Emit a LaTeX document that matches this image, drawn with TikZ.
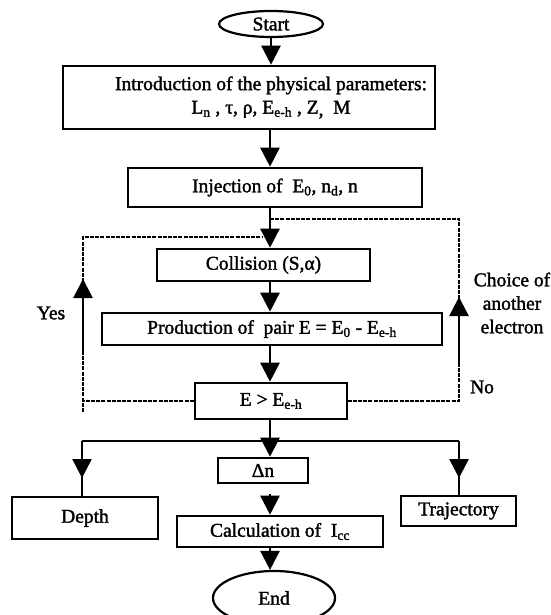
\documentclass[tikz,border=0pt]{standalone}
\usepackage{fontspec}
\setmainfont{Liberation Serif}[FakeBold=1.6,BoldFont=Liberation Serif,BoldFeatures={FakeBold=1.6}]
\usetikzlibrary{arrows.meta,shapes.geometric}
\newcommand{\sbs}[1]{\textsubscript{#1}}
\begin{document}
\begin{tikzpicture}[x=1pt,y=-1pt,
  every node/.style={font=\fontsize{19.5}{23.5}\selectfont\bfseries},
  box/.style={draw, line width=2.6pt, inner sep=0pt, align=center},
  term/.style={draw, ellipse, line width=2.2pt, inner sep=0pt},
  flow/.style={line width=2.6pt, -{Triangle[length=19pt,width=19pt]}},
  plainline/.style={line width=2.6pt},
  looppath/.style={line width=1.3pt, dash pattern=on 4pt off 1.2pt},
  lbl/.style={align=center, inner sep=0pt}]
\clip (0,0) rectangle (550,615);
\fill[white] (0,0) rectangle (550,615);
\coordinate (mx) at (270,0);

% nodes
\node[term, minimum width=104pt, minimum height=26pt] (start) at (271,24) {Start};
\node[box, minimum width=372pt, minimum height=63pt] (intro) at (249,97.5) {};
\node[lbl] (introtxt) at (271,97.5) {Introduction of the physical parameters:\\
  L\sbs{n} ,\ τ, ρ, E\sbs{e-h} ,\ Z\raisebox{-2pt}{,}\ \ M};
\node[box, minimum width=294pt, minimum height=39pt] (inj) at (275,187.5) {Injection of\ \ E\sbs{0}, n\sbs{d}, n};
\node[box, minimum width=213pt, minimum height=32pt] (col) at (263.5,265) {Collision (S,α)};
\node[box, minimum width=340pt, minimum height=32pt] (prod) at (272,329) {Production of\ \ pair E = E\sbs{0} - E\sbs{e-h}};
\node[box, minimum width=152pt, minimum height=36pt] (cmp) at (271,401) {E > E\sbs{e-h}};
\node[box, minimum width=90pt, minimum height=25pt] (dn) at (263,470.5) {Δn};
\node[box, minimum width=146pt, minimum height=42pt] (depth) at (85,518) {Depth};
\node[box, minimum width=206pt, minimum height=31pt] (calc) at (280,531.5) {Calculation of\ \ I\sbs{cc}};
\node[box, minimum width=115pt, minimum height=30pt] (traj) at (458.5,511) {Trajectory};
\node[term, minimum width=122pt, minimum height=54pt] (end) at (274,598) {End};

\node[lbl] (yes) at (51,313) {Yes};
\node[lbl] (no) at (482,387) {No};
\node[lbl] (choice) at (512,303) {Choice of\\another\\electron};

% main flow
\draw[flow] (start.south) -- (start.south |- intro.north);
\draw[flow] (intro.south -| mx) -- (inj.north -| mx);
\draw[flow] (inj.south -| mx) -- (col.north -| mx);
\draw[flow] (col.south -| mx) -- (prod.north -| mx);
\draw[flow] (prod.south -| mx) -- (cmp.north -| mx);
\draw[flow] (cmp.south -| mx) -- (dn.north -| mx);

% branches
\coordinate (bl) at (82,441);
\coordinate (br) at (459,441);
\coordinate (blt) at (82,478);
\coordinate (brt) at (459,478);
\draw[plainline] (bl) -- (br);
\draw[plainline] (bl) -- (depth.north -| bl);
\draw[flow] (bl) -- (blt);
\draw[plainline] (br) -- (traj.north -| br);
\draw[flow] (br) -- (brt);

\coordinate (dnc) at (270,494);
\draw[flow] (dnc) -- (calc.north -| mx);
\draw[flow] (calc.south -| mx) -- (end.north -| mx);

% right loop (No)
\coordinate (rj) at (270,219);
\coordinate (rt) at (459,219);
\draw[looppath] (rj) -- (rt) -- (rt |- cmp.east) -- (cmp.east);
\coordinate (na) at (459,366);
\coordinate (nb) at (459,297);
\draw[flow] (na) -- (nb);

% left loop (Yes)
\coordinate (lt) at (83,237);
\coordinate (lj) at (262,237);
\coordinate (lb) at (83,412);
\draw[looppath] (cmp.west) -- (cmp.west -| lt);
\draw[looppath] (lb) -- (lt) -- (lj);
\coordinate (ya) at (83,355);
\coordinate (yb) at (83,279);
\draw[flow] (ya) -- (yb);
\end{tikzpicture}
\end{document}
